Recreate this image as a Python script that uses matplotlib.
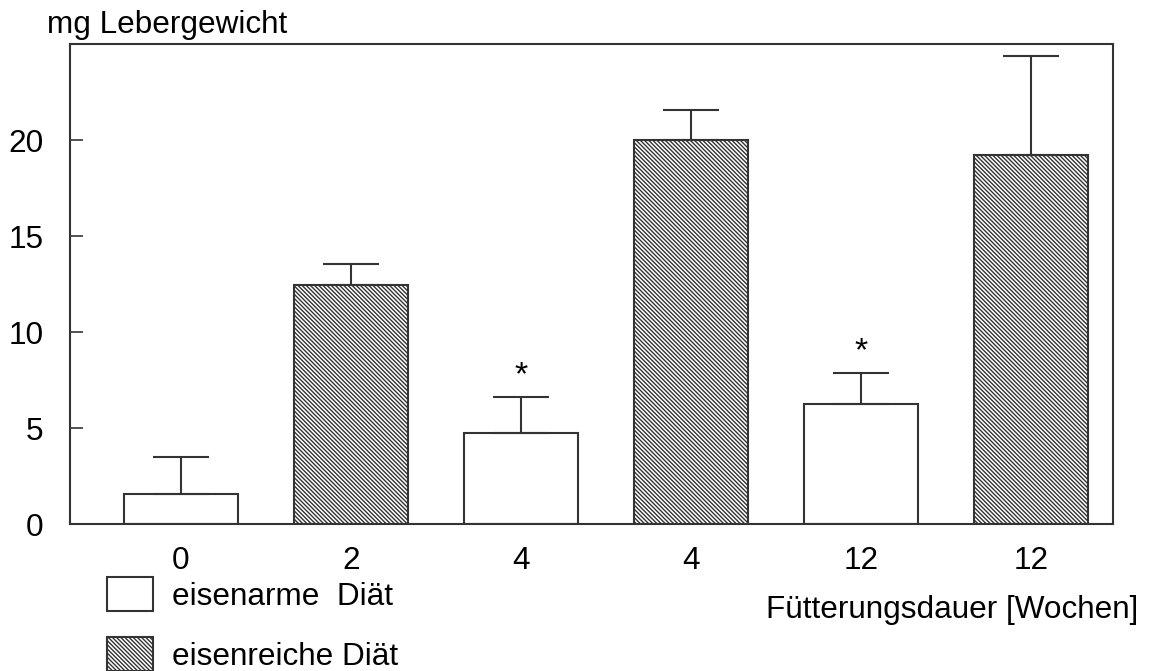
import numpy as np
import matplotlib.pyplot as plt
from matplotlib.patches import Patch

plt.rcParams['font.family'] = ['Liberation Sans', 'DejaVu Sans']
plt.rcParams['hatch.linewidth'] = 1.0

# Daten: Lebergewicht (mg), Mittelwert + Fehler nach oben
tick_labels = ['0', '2', '4', '4', '12', '12']
low_pos = [0, 2, 4]      # eisenarme Diät
high_pos = [1, 3, 5]     # eisenreiche Diät
low_mean = [1.55, 4.72, 6.25]
low_err = [1.94, 1.91, 1.63]
high_mean = [12.48, 20.0, 19.24]
high_err = [1.06, 1.6, 5.16]
signif = [False, True, True]  # Sternchen über eisenarm-Balken

edge = '#333333'
fs = 22.7
hatch = '\\' * 8

fig = plt.figure(figsize=(11.51, 6.71), dpi=100)
ax = fig.add_axes([0.0608, 0.219, 0.9062, 0.715])

ax.bar(low_pos, low_mean, width=0.67, color='white', edgecolor=edge, linewidth=1.5,
       yerr=[np.zeros(3), low_err], capsize=20.5,
       error_kw=dict(ecolor=edge, elinewidth=1.5, capthick=1.5), zorder=2)
ax.bar(high_pos, high_mean, width=0.67, color='white', edgecolor=edge, linewidth=1.5,
       hatch=hatch, yerr=[np.zeros(3), high_err], capsize=20.5,
       error_kw=dict(ecolor=edge, elinewidth=1.5, capthick=1.5), zorder=2)

for p, m, e, s in zip(low_pos, low_mean, low_err, signif):
    if s:
        ax.annotate('*', (p, m + e), xytext=(0, 4), textcoords='offset points',
                    ha='center', va='bottom', fontsize=fs + 2)

ax.set_xlim(-0.653, 5.482)
ax.set_ylim(0, 25)
ax.set_xticks(range(6))
ax.set_xticklabels(tick_labels, fontsize=fs)
ax.set_yticks([0, 5, 10, 15, 20])
ax.tick_params(axis='y', direction='in', length=9, width=1.2, color=edge,
               pad=19, labelsize=fs)
ax.tick_params(axis='x', length=0, pad=16, labelsize=fs)
for sp in ax.spines.values():
    sp.set_color(edge)
    sp.set_linewidth(1.5)

fig.text(47 / 1151, 1 - 25 / 671, 'mg Lebergewicht', fontsize=fs, ha='left', va='center')
fig.text(1138 / 1151, 1 - 610 / 671, 'Fütterungsdauer [Wochen]', fontsize=fs,
         ha='right', va='center')

handles = [Patch(facecolor='white', edgecolor=edge, linewidth=1.5),
           Patch(facecolor='white', edgecolor=edge, linewidth=1.5, hatch=hatch)]
fig.legend(handles, ['eisenarme  Diät', 'eisenreiche Diät'], loc='upper left',
           bbox_to_anchor=(107 / 1151, 1 - 577 / 671), frameon=False, fontsize=fs,
           handlelength=1.45, handleheight=1.3, handletextpad=0.62,
           labelspacing=0.8, borderpad=0, borderaxespad=0)

fig.savefig('out.png', dpi=100)
